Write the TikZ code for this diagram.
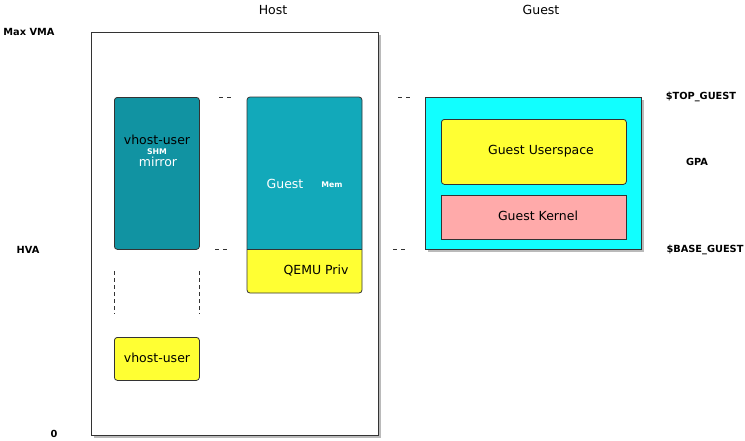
\documentclass[tikz,border=0pt]{standalone}
\usepackage{fontspec}
\setmainfont{DejaVu Sans}
\usetikzlibrary{shadows}
\definecolor{mirrorc}{HTML}{1193A2}
\definecolor{memc}{HTML}{12A9BA}
\definecolor{yelc}{HTML}{FFFF33}
\definecolor{cyanc}{HTML}{11FFFF}
\definecolor{pinkc}{HTML}{FFAAAA}
\definecolor{edgec}{HTML}{333333}
\tikzset{
  lbl/.style={font=\bfseries\fontsize{9.8}{11}\selectfont, inner sep=0pt},
  ttl/.style={font=\fontsize{12.5}{14}\selectfont, inner sep=0pt},
  boxtxt/.style={font=\fontsize{12.5}{14}\selectfont, inner sep=0pt},
  smalltxt/.style={font=\bfseries\fontsize{7.8}{9}\selectfont, inner sep=0pt, text=white},
  box/.style={draw=edgec, line width=0.8pt, inner sep=0pt, anchor=north west},
  shad/.style={drop shadow={shadow xshift=2.5pt, shadow yshift=-2.5pt, opacity=0.45, fill=black!60}},
  dsh/.style={draw=edgec, line width=0.6pt, dash pattern=on 4pt off 4pt},
  vdsh/.style={draw=edgec, line width=0.6pt, dash pattern=on 4pt off 3pt},
}
\begin{document}
\begin{tikzpicture}[x=1pt,y=-1pt]
\useasboundingbox (0,0) rectangle (745,440);
% titles
\node[ttl] (host) at (273,10) {Host};
\node[ttl] (guest) at (541,10) {Guest};
% axis labels
\node[lbl] (maxvma) at (29,32) {Max VMA};
\node[lbl] (hva) at (28,250) {HVA};
\node[lbl] (zero) at (54,434) {0};
\node[lbl] (top) at (701,97) {\$TOP\_GUEST};
\node[lbl] (gpa) at (697,162) {GPA};
\node[lbl] (base) at (705,250) {\$BASE\_GUEST};
% host frame
\node[box, fill=white, shad, minimum width=287pt, minimum height=403pt] (hostbox) at (91,32) {};
% vhost-user mirror
\node[box, fill=mirrorc, rounded corners=3pt, minimum width=85pt, minimum height=152pt] (mirror) at (114,97) {};
\node[boxtxt] (mt1) at (157,140) {vhost-user};
\node[smalltxt] (mt2) at (157,152) {SHM};
\node[boxtxt, text=white] (mt3) at (158,162) {mirror};
% guest mem + qemu priv
\fill[memc] (247,249) [rounded corners=3pt] -- (247,97) -- (362,97) -- (362,249);
\draw[edgec, line width=0.8pt] (247,249) [rounded corners=3pt] -- (247,97) -- (362,97) -- (362,249);
\fill[yelc] (247,249) [rounded corners=3pt] -- (247,293) -- (362,293) -- (362,249);
\draw[edgec, line width=0.8pt] (247,249) [rounded corners=3pt] -- (247,293) -- (362,293) -- (362,249);
\draw[edgec, line width=0.8pt] (247,249) -- (362,249);
\coordinate (memtl) at (247,97);
\coordinate (memml) at (247,249);
\node[boxtxt, text=white] (gm1) at (285,184) {Guest};
\node[smalltxt] (gm2) at (332,185) {Mem};
\node[boxtxt] (qp) at (316,271) {QEMU Priv};
% vhost-user
\node[box, fill=yelc, rounded corners=3pt, minimum width=85pt, minimum height=43pt] (vhu) at (114,337) {};
\node[boxtxt] (vhut) at (157,358) {vhost-user};
% vertical dashed
\coordinate (v1a) at (114,271); \coordinate (v1b) at (114,314);
\coordinate (v2a) at (199,271); \coordinate (v2b) at (199,314);
\draw[vdsh] (v1a) -- (v1b);
\draw[vdsh] (v2a) -- (v2b);
% short dashes
\coordinate (d1a) at (219,97); \coordinate (d1b) at (231,97);
\coordinate (d2a) at (215,249); \coordinate (d2b) at (227,249);
\coordinate (d3a) at (398,97); \coordinate (d3b) at (410,97);
\coordinate (d4a) at (393,249); \coordinate (d4b) at (405,249);
\draw[dsh] (d1a) -- (d1b);
\draw[dsh] (d2a) -- (d2b);
\draw[dsh] (d3a) -- (d3b);
\draw[dsh] (d4a) -- (d4b);
% guest
\node[box, fill=cyanc, shad, minimum width=216pt, minimum height=152pt] (guestbox) at (425,97) {};
\node[box, fill=yelc, rounded corners=3pt, minimum width=185pt, minimum height=65pt] (gus) at (441,119) {};
\node[boxtxt] (gust) at (541,151) {Guest Userspace};
\node[box, fill=pinkc, minimum width=185pt, minimum height=44pt] (gk) at (441,195) {};
\node[boxtxt] (gkt) at (538,216) {Guest Kernel};
\end{tikzpicture}
\end{document}
